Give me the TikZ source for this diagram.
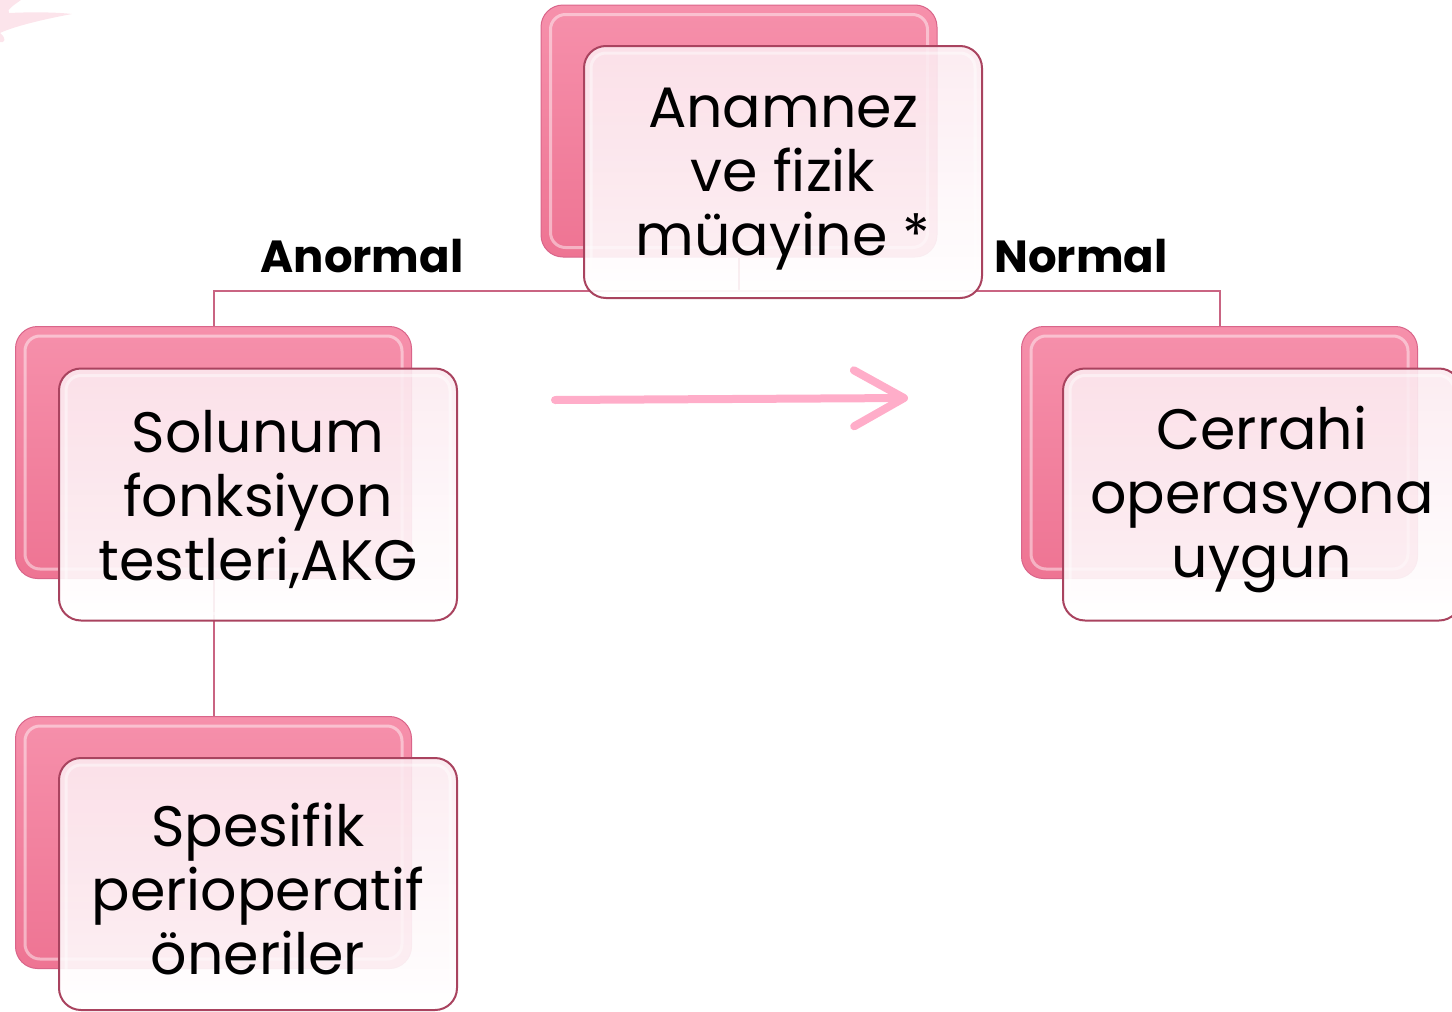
\documentclass[tikz,border=0pt]{standalone}
\usepackage{fontspec}
\setmainfont{Poppins}
\usetikzlibrary{arrows.meta}
\definecolor{backtop}{HTML}{F690AB}
\definecolor{backbot}{HTML}{EE7493}
\definecolor{backedge}{HTML}{D9658A}
\definecolor{fronttop}{HTML}{FCEAF0}
\definecolor{frontbot}{HTML}{FFFFFF}
\definecolor{frontedge}{HTML}{A9435F}
\definecolor{connclr}{HTML}{C96482}
\definecolor{arrowpink}{HTML}{FFADC9}
\definecolor{swoosh}{HTML}{FCE4EB}
\begin{document}
\begin{tikzpicture}[x=1pt,y=-1pt,
  backbox/.style={rectangle, rounded corners=22pt, minimum width=396pt, minimum height=252pt,
    top color=backtop, bottom color=backbot, draw=backedge, line width=1pt, inner sep=0pt},
  frontbox/.style={rectangle, rounded corners=22pt, minimum width=398pt, minimum height=252pt,
    top color=fronttop, bottom color=frontbot, fill opacity=0.9,
    draw=frontedge, line width=2pt, inner sep=0pt},
  boxtext/.style={align=center, inner sep=0pt, font=\fontsize{57}{64}\selectfont},
  gloss/.style={draw=white, line width=3pt, draw opacity=0.45, rounded corners=15pt},
  lbl/.style={font=\fontsize{45}{50}\selectfont\bfseries, inner sep=0pt, anchor=base},
  connector/.style={draw=connclr, line width=2pt},
  bigarrow/.style={draw=arrowpink, line width=8pt, line cap=round,
    -{Straight Barb[length=50pt,width=56pt,round]}}
]
\useasboundingbox (0,0) rectangle (1452,1012);
\clip (0,0) rectangle (1452,1012);

% corner decoration
\fill[swoosh] (0,0) -- (21,0) .. controls (14,5) and (6,10) .. (9,13)
  .. controls (30,12) and (55,12) .. (72,14)
  .. controls (45,19) and (15,26) .. (0,33) -- cycle;
\fill[swoosh] (0,33) .. controls (4,36) and (6,40) .. (3,42) -- (0,42) -- cycle;

% back boxes
\node[backbox] (tb)  at (739,131) {};
\node[backbox] (l1b) at (213.5,452.5) {};
\node[backbox] (l2b) at (213.5,842.5) {};
\node[backbox] (rb)  at (1219.5,452.5) {};
\foreach \b in {tb,l1b,l2b,rb}
  \draw[gloss] ([shift={(10,10)}]\b.north west) rectangle ([shift={(-10,-10)}]\b.south east);

% connectors
\draw[connector] (tb.south) -- ++(0,33) coordinate (junc) -| (l1b.north);
\draw[connector] (junc) -| (rb.north);
\draw[connector] (l1b.south) -- (l2b.north);

% front boxes
\node[frontbox] (tf)  at (783,172) {};
\node[frontbox] (l1f) at (258,494.5) {};
\node[frontbox] (l2f) at (258,884) {};
\node[frontbox] (rf)  at (1262,494.5) {};
\foreach \b in {tf,l1f,l2f,rf}
  \draw[gloss] ([shift={(8,8)}]\b.north west) rectangle ([shift={(-8,-8)}]\b.south east);

% box texts
\node[boxtext] (tft)  at ([yshift=-7pt]tf.center)  {Anamnez\\ve fizik\\müayine *};
\node[boxtext] (l1ft) at ([yshift=-5pt]l1f.center) {Solunum\\fonksiyon\\testleri,AKG};
\node[boxtext] (l2ft) at ([yshift=-5pt]l2f.center) {Spesifik\\perioperatif\\öneriler};
\node[boxtext] (rft)  at ([yshift=-5pt]rf.center)  {Cerrahi\\operasyona\\uygun};

% labels
\node[lbl] (anormal) at (362,272) {Anormal};
\node[lbl] (normal)  at (1081,272) {Normal};

% arrow
\coordinate (arrs) at (555,400);
\coordinate (arre) at (908,398);
\draw[bigarrow] (arrs) -- (arre);
\end{tikzpicture}
\end{document}
